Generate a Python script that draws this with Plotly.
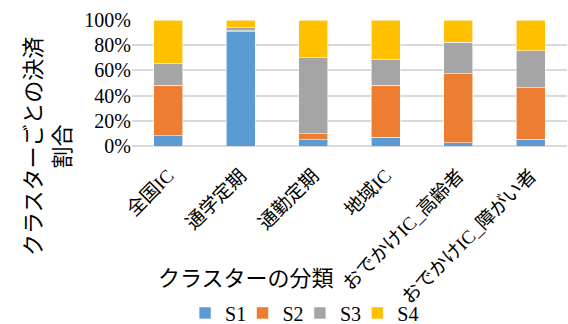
import plotly.graph_objects as go

categories = ["全国IC", "通学定期", "通勤定期", "地域IC", "おでかけIC_高齢者", "おでかけIC_障がい者"]
s1 = [8.2, 90.5, 5.0, 7.1, 2.4, 5.3]
s2 = [40.2, 0.8, 4.8, 41.3, 55.0, 41.0]
s3 = [17.2, 2.6, 60.3, 19.9, 25.1, 29.3]
s4 = [34.4, 6.1, 29.9, 31.7, 17.5, 24.4]
series_names = ["S1", "S2", "S3", "S4"]
series_colors = ["#5B9BD5", "#ED7D31", "#A5A5A5", "#FFC000"]
y_ticks = [0, 20, 40, 60, 80, 100]
y_ticklabels = ["0%", "20%", "40%", "60%", "80%", "100%"]

FONT = "Liberation Serif, Noto Sans CJK JP, serif"
legend_ids = ["legend", "legend2", "legend3", "legend4"]
legend_x = [0.122, 0.254, 0.386, 0.518]

fig = go.Figure()
for name, vals, col, lid in zip(series_names, [s1, s2, s3, s4], series_colors, legend_ids):
    fig.add_trace(go.Bar(
        x=categories, y=vals, name=name,
        marker=dict(color=col, line=dict(color="rgba(255,255,255,0.7)", width=0.8)),
        width=0.4,
        legend=lid,
    ))

legend_common = dict(orientation="h", y=-1.325, yanchor="middle", xanchor="left",
                     font=dict(size=20), itemwidth=30, traceorder="normal",
                     bgcolor="rgba(0,0,0,0)")

fig.update_layout(
    barmode="stack",
    width=568, height=324,
    margin=dict(l=132, r=1, t=20, b=178, autoexpand=False),
    paper_bgcolor="white", plot_bgcolor="white",
    font=dict(family=FONT, size=20, color="#000000"),
    showlegend=True,
    xaxis=dict(tickangle=-45, showgrid=False, showline=False, ticks="outside",
               ticklen=10, tickcolor="rgba(0,0,0,0)", automargin=False,
               tickfont=dict(size=19)),
    yaxis=dict(range=[0, 100], tickvals=y_ticks, ticktext=y_ticklabels,
               showgrid=True, gridcolor="#D9D9D9", gridwidth=1.5,
               zeroline=True, zerolinecolor="#D9D9D9", zerolinewidth=1.5,
               showline=False, ticks="", automargin=False, tickfont=dict(size=20)),
    annotations=[
        dict(text="クラスターごとの決済<br>割合", textangle=-90, xref="paper", yref="paper",
             x=-0.193, y=-0.008, xanchor="center", yanchor="middle", showarrow=False,
             align="center", font=dict(size=22, family=FONT)),
        dict(text="クラスターの分類", xref="paper", yref="paper",
             x=0.262, y=-1.048, xanchor="center", yanchor="middle", showarrow=False,
             font=dict(size=22, family=FONT)),
    ],
)
for lid, lx in zip(legend_ids, legend_x):
    fig.update_layout({lid: dict(x=lx, **legend_common)})

fig.write_html("out.html")
